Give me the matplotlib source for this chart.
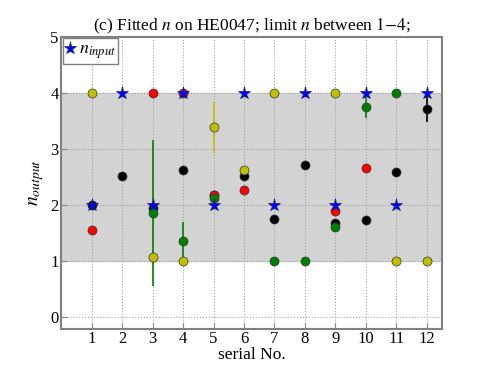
import numpy as np
import matplotlib
matplotlib.use('Agg')
import matplotlib.pyplot as plt

plt.rcParams['font.family'] = ['Liberation Serif', 'DejaVu Serif']
plt.rcParams['mathtext.fontset'] = 'stix'

nan = np.nan
serial = np.arange(1, 13)
n_input = [2, 4, 2, 4, 2, 4, 2, 4, 2, 4, 2, 4]

# points hidden behind the stars in the picture are left out (nan)
n_black = [2.0, 2.51, 1.95, 2.63, 2.17, 2.52, 1.75, 2.72, 1.68, 1.74, 2.58, 3.71]
err_black = [0, 0, 0, 0, 0, 0.05, 0, 0.07, 0, 0, 0, 0.23]
n_yellow = [4.0, nan, 1.07, 1.0, 3.38, 2.63, 4.0, nan, 4.0, nan, 1.0, 1.0]
err_yellow = [0, 0, 0.13, 0, 0.46, 0.06, 0, 0, 0, 0, 0, 0]
n_red = [1.55, nan, 4.0, 4.0, 2.18, 2.26, nan, nan, 1.90, 2.65, nan, nan]
err_red = [0, 0, 0, 0, 0, 0.07, 0, 0, 0, 0.07, 0, 0]
n_green = [nan, nan, 1.85, 1.35, 2.13, nan, 1.0, 1.0, 1.61, 3.75, 4.0, nan]
err_green = [0, 0, 1.3, 0.35, 0, 0, 0, 0, 0, 0.2, 0, 0]

fig = plt.figure(figsize=(4.91, 3.65), dpi=100)
ax = fig.add_axes([0.125, 0.1, 0.775, 0.8])

ax.axhspan(1, 4, color='#d3d3d3', zorder=0)
ax.grid(True, linestyle=':', color='#a0a0a0', linewidth=0.8, zorder=1)

for vals, errs, col in [(n_black, err_black, 'k'), (n_yellow, err_yellow, 'y'),
                        (n_red, err_red, 'r'), (n_green, err_green, 'g')]:
    ax.errorbar(serial, vals, yerr=errs, fmt='o', color=col, ecolor=col,
                markersize=6.5, markeredgecolor='#333333', markeredgewidth=0.5,
                elinewidth=1.2, capsize=0, zorder=3)

ax.plot(serial, n_input, '*', color='b', markersize=9.5, markeredgecolor='#222266',
        markeredgewidth=0.5, label=r'$n_{input}$', zorder=4)

ax.set_xlim(0, 12.5)
ax.set_ylim(-0.2, 5)
ax.set_xticks(serial)
ax.set_yticks([0, 1, 2, 3, 4, 5])
ax.tick_params(labelsize=12, direction='in', color='#888888', length=4, pad=2)
for s in ax.spines.values():
    s.set_color('#808080')
    s.set_linewidth(1.5)

ax.set_title(r'(c) Fitted $n$ on HE0047; limit $n$ between $1{-}4$;', fontsize=12.5, pad=4)
ax.set_xlabel('serial No.', fontsize=12.5, labelpad=0)
ax.set_ylabel(r'$n_{output}$', fontsize=14, labelpad=3)

leg = ax.legend(loc='upper left', numpoints=1, fontsize=13, fancybox=False,
                borderaxespad=0.1, handlelength=0.5, handletextpad=0.2,
                borderpad=0.15, framealpha=1)
leg.get_frame().set_edgecolor('#808080')

fig.savefig('out.png', dpi=100)
